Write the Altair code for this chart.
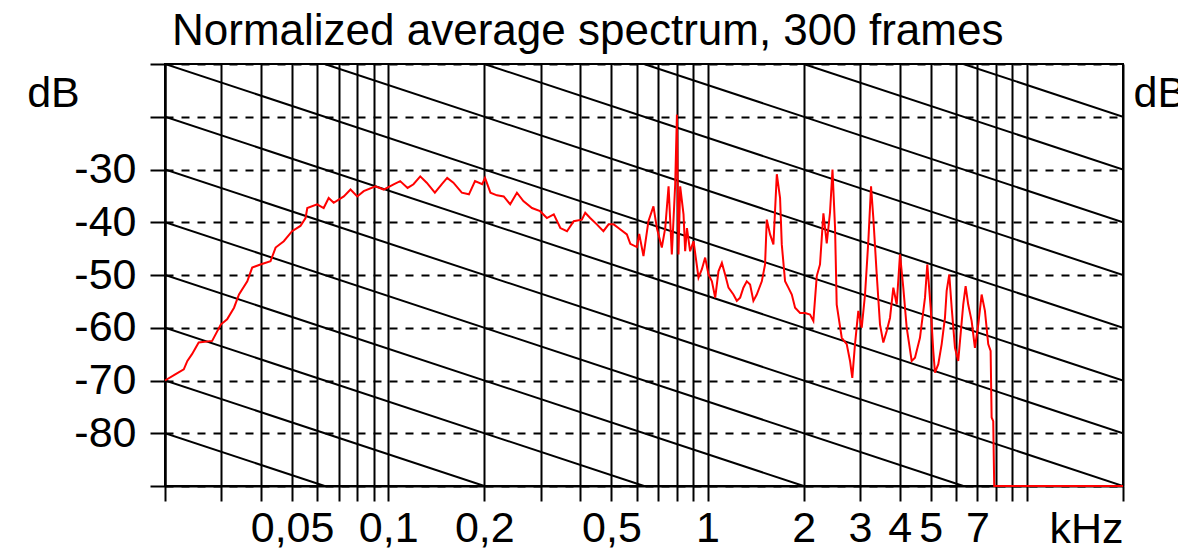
import altair as alt
import pandas as pd

# ---- spectrum ----
freq_khz = [0.02, 0.0216, 0.0229, 0.0235, 0.0243, 0.0255, 0.0281, 0.0299, 0.0313, 0.0329,
            0.0341, 0.0362, 0.0375, 0.0398, 0.0428, 0.0444, 0.0471, 0.0500, 0.0531, 0.0551,
            0.0558, 0.0599, 0.0628, 0.0651, 0.0675, 0.0726, 0.0762, 0.0800, 0.0838, 0.0912,
            0.0968, 0.104, 0.109, 0.115, 0.120, 0.126, 0.132, 0.140, 0.147, 0.153,
            0.160, 0.170, 0.179, 0.187, 0.197, 0.201, 0.209, 0.219, 0.230, 0.241,
            0.253, 0.265, 0.282, 0.299, 0.314, 0.330, 0.346, 0.363, 0.381, 0.404,
            0.414, 0.429, 0.450, 0.472, 0.490, 0.508, 0.526, 0.559, 0.573, 0.601,
            0.611, 0.630, 0.653, 0.677, 0.694, 0.719, 0.737, 0.755, 0.773, 0.792,
            0.802, 0.811, 0.821, 0.841, 0.851, 0.862, 0.882, 0.904, 0.937, 0.960,
            0.983, 1.007, 1.032, 1.057, 1.082, 1.109, 1.135, 1.163, 1.205, 1.235,
            1.265, 1.295, 1.327, 1.359, 1.392, 1.426, 1.479, 1.514, 1.533, 1.570,
            1.608, 1.648, 1.687, 1.708, 1.749, 1.791, 1.836, 1.880, 1.949, 2.020,
            2.094, 2.145, 2.198, 2.250, 2.306, 2.362, 2.418, 2.462, 2.508, 2.538,
            2.632, 2.728, 2.794, 2.840, 2.896, 2.966, 3.040, 3.113, 3.188, 3.251,
            3.305, 3.387, 3.468, 3.552, 3.640, 3.728, 3.818, 3.912, 4.006, 4.102,
            4.204, 4.358, 4.463, 4.626, 4.797, 4.877, 4.998, 5.092, 5.155, 5.280,
            5.410, 5.540, 5.608, 5.715, 5.815, 5.955, 6.096, 6.320, 6.430, 6.551,
            6.714, 6.876, 7.042, 7.217, 7.390, 7.568, 7.700, 7.756, 7.846, 7.902,
            20.0]
level_db = [-70.0, -68.8, -67.9, -66.3, -65.0, -62.8, -62.5, -59.4, -58.4, -56.2,
            -53.7, -51.2, -48.6, -48.0, -47.4, -44.8, -43.6, -41.7, -40.7, -39.2,
            -37.3, -36.6, -37.3, -35.4, -36.3, -35.1, -33.8, -35.1, -34.1, -33.2,
            -33.8, -32.8, -32.2, -33.5, -32.8, -31.3, -32.5, -34.4, -32.8, -31.6,
            -32.5, -34.4, -34.7, -32.2, -32.8, -31.6, -34.4, -34.9, -35.1, -36.6,
            -34.4, -36.0, -37.3, -37.9, -39.2, -38.5, -41.1, -41.7, -39.8, -39.5,
            -38.2, -39.2, -40.4, -41.7, -40.4, -40.4, -41.1, -42.3, -44.1, -44.7,
            -42.2, -46.4, -39.8, -37.0, -41.1, -44.8, -41.1, -33.2, -46.1, -32.8,
            -19.6, -46.1, -33.2, -38.5, -45.5, -41.1, -45.5, -43.6, -50.5, -48.9,
            -46.7, -49.9, -51.2, -54.3, -49.3, -47.7, -49.9, -52.4, -53.7, -54.9,
            -54.3, -52.4, -51.2, -51.8, -54.9, -53.7, -51.2, -48.0, -39.5, -42.3,
            -44.2, -30.9, -35.4, -44.2, -51.2, -52.4, -53.7, -56.2, -57.2, -57.2,
            -57.5, -58.7, -50.2, -48.0, -38.3, -44.0, -38.2, -30.0, -41.1, -55.6,
            -61.9, -63.1, -66.3, -69.5, -63.1, -56.8, -60.0, -53.7, -43.6, -33.2,
            -39.2, -49.9, -59.4, -62.8, -60.6, -58.1, -52.4, -55.6, -46.1, -52.4,
            -60.0, -66.3, -65.7, -61.9, -54.3, -48.0, -56.2, -64.4, -68.5, -66.9,
            -63.1, -58.1, -53.0, -49.9, -56.2, -63.8, -66.3, -55.6, -52.1, -55.6,
            -58.7, -63.8, -59.4, -53.7, -56.8, -63.1, -64.4, -77.0, -77.7, -90.0,
            -90.0]

# ---- text ----
title_text = ["Normalized average spectrum, 300 frames"]

# ---- axes / grid ----
x_domain = [0.02, 20.0]
y_domain = [-90, -10]
x_ticks = [0.02, 0.03, 0.04, 0.05, 0.06, 0.07, 0.08, 0.09,
           0.1, 0.2, 0.3, 0.4, 0.5, 0.6, 0.7, 0.8, 0.9,
           1, 2, 3, 4, 5, 6, 7, 8, 9, 10, 20]
x_labeled = [0.05, 0.1, 0.2, 0.5, 1, 2, 3, 4, 5, 7]
x_label_text = ["0,05", "0,1", "0,2", "0,5", "1", "2", "3", "4", "5", "7"]
y_ticks = [-90, -80, -70, -60, -50, -40, -30, -20, -10]
y_labeled = [-30, -40, -50, -60, -70, -80]

# -6 dB/octave reference lines: level at 0.02 kHz and at 20 kHz
diag_left_db = [-90, -80, -70, -60, -50, -40, -30, -20, -10, 0, 10, 20, 30, 40, 50]
diag_right_db = [-150, -140, -130, -120, -110, -100, -90, -80, -70, -60, -50, -40, -30, -20, -10]

FONT = "Liberation Sans"
FS = 43

spec = pd.DataFrame({"f": freq_khz, "db": level_db})
diag = pd.DataFrame({"f1": [x_domain[0]] * len(diag_left_db), "f2": [x_domain[1]] * len(diag_left_db),
                     "d1": diag_left_db, "d2": diag_right_db})
titles = pd.DataFrame({"t": title_text})

x_expr = "".join(f"datum.value == {v} ? '{t}' : " for v, t in zip(x_labeled, x_label_text)) + "''"
y_expr = "indexof([" + ",".join(str(v) for v in y_labeled) + "], datum.value) >= 0 ? '' + datum.value : ''"

xscale = alt.Scale(type="log", domain=x_domain, nice=False)
yscale = alt.Scale(domain=y_domain, nice=False, zero=False)

x_axis = alt.Axis(values=x_ticks, labelExpr=x_expr, grid=True, gridColor="black", gridWidth=2,
                  gridOpacity=1, ticks=True, tickSize=15, tickColor="black", tickWidth=2,
                  domain=True, domainColor="black", domainWidth=2, labelOverlap=False, labelFlush=False,
                  labelFont=FONT, labelFontSize=FS, labelColor="black",
                  labelBaseline="alphabetic", labelPadding=40,
                  title="kHz", titleFont=FONT, titleFontSize=FS, titleFontWeight="normal",
                  titleColor="black", titleX=921, titleY=56, titleAlign="center",
                  titleBaseline="alphabetic")

ylo, yhi = y_domain
# clip each reference line to the plotted dB range (fraction t along the log-frequency span)
diag_layer = alt.Chart(diag).transform_calculate(
    t1=f"max(0, (datum.d1 - ({yhi})) / (datum.d1 - datum.d2))",
    t2=f"min(1, (datum.d1 - ({ylo})) / (datum.d1 - datum.d2))",
).transform_filter("datum.t2 > datum.t1").transform_calculate(
    x1="datum.f1 * pow(datum.f2 / datum.f1, datum.t1)",
    x2="datum.f1 * pow(datum.f2 / datum.f1, datum.t2)",
    y1="datum.d1 + (datum.d2 - datum.d1) * datum.t1",
    y2="datum.d1 + (datum.d2 - datum.d1) * datum.t2",
).mark_rule(clip=True, color="black", strokeWidth=2).encode(
    x=alt.X("x1:Q", scale=xscale, axis=x_axis),
    x2="x2:Q",
    y=alt.Y("y1:Q", scale=yscale,
            axis=alt.Axis(orient="right", title="dB", labels=False, ticks=False, domain=False, grid=False,
                          titleAngle=0, titleX=10, titleY=29, titleAlign="left", titleBaseline="middle",
                          titleFont=FONT, titleFontSize=FS, titleFontWeight="normal", titleColor="black")),
    y2="y2:Q",
)

spec_layer = alt.Chart(spec).mark_line(color="#ff0000", strokeWidth=2).encode(
    x=alt.X("f:Q", scale=xscale, axis=x_axis),
    y=alt.Y("db:Q", scale=yscale,
            axis=alt.Axis(values=y_ticks, labelExpr=y_expr, grid=True, gridColor="black", gridWidth=2,
                          gridDash=[8, 8], gridOpacity=1, ticks=True, tickSize=15, tickColor="black",
                          tickWidth=2, domainColor="black", domainWidth=2, labelOverlap=False,
                          labelFlush=False, labelFont=FONT, labelFontSize=FS, labelColor="black",
                          labelPadding=14,
                          title="dB", titleAngle=0, titleX=-112, titleY=29, titleAlign="center",
                          titleBaseline="middle", titleFont=FONT, titleFontSize=FS,
                          titleFontWeight="normal", titleColor="black")),
)

title_layer = alt.Chart(titles).mark_text(
    align="left", baseline="alphabetic", font=FONT, fontSize=44, color="black"
).encode(text="t:N", x=alt.value(7), y=alt.value(-19))

chart = alt.layer(diag_layer, spec_layer, title_layer).resolve_axis(y="independent").properties(
    width=958,
    height=422,
    autosize=alt.AutoSizeParams(type="none"),
    padding={"left": 157, "top": 56, "right": 55, "bottom": 66},
).configure_view(stroke="black", strokeWidth=2)

chart.save("out.html", embed_options={"renderer": "svg", "actions": False})
